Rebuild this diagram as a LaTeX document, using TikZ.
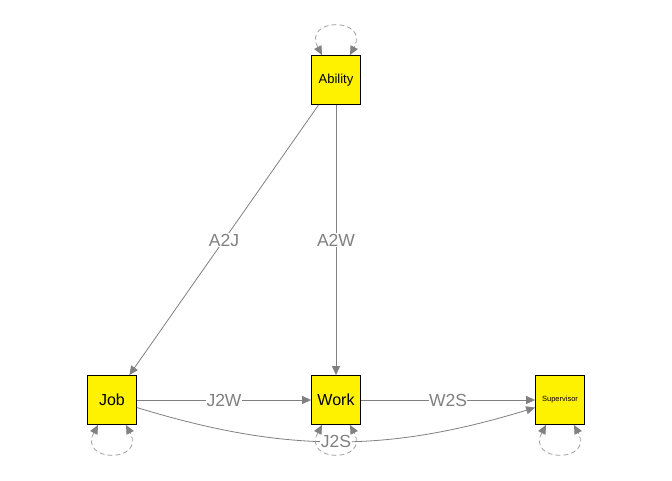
\documentclass[tikz,border=0pt]{standalone}
\usepackage{fontspec}
\setmainfont{Liberation Sans}
\usetikzlibrary{arrows.meta}
\definecolor{egray}{RGB}{128,128,128}
\definecolor{lgray}{RGB}{160,160,160}
\begin{document}
\begin{tikzpicture}[x=1pt,y=1pt,
  var/.style={draw=black,line width=0.8pt,fill=yellow,minimum size=49pt,inner sep=0pt,text=black},
  edge/.style={draw=egray,line width=0.8pt,-{Triangle[length=9pt,width=8pt]}},
  lbl/.style={text=egray,fill=white,font=\fontsize{17.5}{17.5}\selectfont,inner sep=0.5pt},
  vloop/.style={draw=lgray,line width=0.8pt,dash pattern=on 5pt off 3pt,
    {Triangle[length=9pt,width=8pt,color=egray,fill=egray]}-{Triangle[length=9pt,width=8pt,color=egray,fill=egray]}}]
\useasboundingbox (0,0) rectangle (672,480);
\node[var,font=\fontsize{13}{13}\selectfont] (ab) at (336,400) {Ability};
\node[var,font=\fontsize{16}{16}\selectfont] (job) at (112,80) {Job};
\node[var,font=\fontsize{16}{16}\selectfont] (work) at (336,80) {Work};
\node[var,font=\fontsize{7.5}{7.5}\selectfont] (sup) at (560,80) {Supervisor};
% paths
\draw[edge] (ab) -- node[lbl,midway] {A2J} (job);
\draw[edge] (ab) -- node[lbl,midway] {A2W} (work);
\draw[edge] (job) -- node[lbl,midway] {J2W} (work);
\draw[edge] (work) -- node[lbl,midway] {W2S} (sup);
\draw[edge] (job) to[bend right=17] node[lbl,midway] {J2S} (sup);
% variances
\draw[vloop] ([xshift=-14pt]ab.north) .. controls +(-20,38) and +(20,38) .. ([xshift=14pt]ab.north);
\draw[vloop] ([xshift=-14pt]job.south) .. controls +(-20,-38) and +(20,-38) .. ([xshift=14pt]job.south);
\draw[vloop] ([xshift=-14pt]work.south) .. controls +(-20,-38) and +(20,-38) .. ([xshift=14pt]work.south);
\draw[vloop] ([xshift=-14pt]sup.south) .. controls +(-20,-38) and +(20,-38) .. ([xshift=14pt]sup.south);
\end{tikzpicture}
\end{document}
